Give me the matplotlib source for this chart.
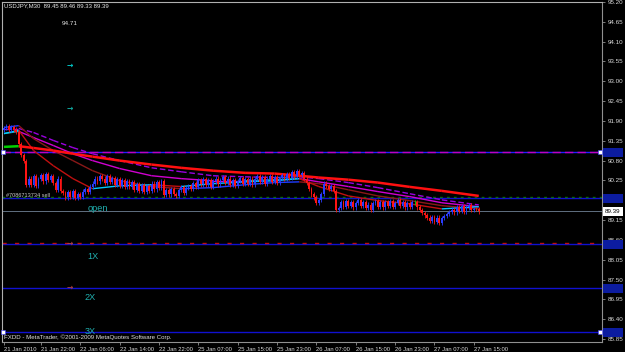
import matplotlib
matplotlib.use("Agg")
import matplotlib.pyplot as plt
import numpy as np
from matplotlib.patches import Rectangle

W, H = 625, 352

# ---- M30 candles, closes (open = previous close) ----
first_open = 91.66
closes = [
    91.70, 91.76, 91.64, 91.74, 91.66, 91.60,
    91.25, 90.95, 90.78, 90.12,
    90.30, 90.12, 90.38, 90.10, 90.28, 90.40, 90.22, 90.42, 90.26, 90.36, 90.18,
    89.98, 90.30, 89.95, 89.90,
    89.78, 89.92, 89.80, 89.95, 89.76, 89.88, 89.80,
    89.94, 90.02, 89.92, 90.08, 90.16,
    90.30, 90.22, 90.38, 90.30,
    90.18, 90.38, 90.20, 90.32, 90.12, 90.28, 90.10, 90.26, 90.08,
    90.22, 90.06, 90.20, 89.98, 90.14, 89.96, 90.12, 89.92, 90.10, 89.96,
    90.16, 90.00, 90.20, 90.04, 90.22,
    89.84,
    89.98, 89.86, 90.02, 89.88, 89.82, 89.98, 90.06, 89.90, 90.04,
    90.10, 90.02, 90.18, 90.08, 90.26, 90.14, 90.28,
    90.12, 90.26, 90.08, 90.22, 90.30, 90.14, 90.26, 90.34, 90.18, 90.30,
    90.12, 90.26, 90.10, 90.24, 90.32, 90.16, 90.28,
    90.16, 90.30, 90.14, 90.28, 90.36, 90.20, 90.34, 90.16, 90.30, 90.38,
    90.20, 90.34, 90.18, 90.32, 90.40, 90.28,
    90.42, 90.32, 90.48, 90.36, 90.52, 90.40, 90.46,
    90.30, 90.18, 90.02, 89.86, 89.78,
    89.62, 89.70,
    89.88, 90.16, 90.10,
    90.02, 90.10, 89.96,
    89.42,
    89.48, 89.64, 89.52, 89.68, 89.54, 89.66, 89.50, 89.62, 89.70, 89.54, 89.64, 89.48,
    89.58, 89.44, 89.62, 89.68, 89.52, 89.64, 89.50, 89.66, 89.54, 89.68,
    89.52, 89.62, 89.70, 89.54, 89.66, 89.50, 89.62, 89.52, 89.64,
    89.64,
    89.50, 89.42, 89.34, 89.28, 89.22,
    89.12, 89.24, 89.10, 89.22, 89.08, 89.20, 89.26, 89.32,
    89.38, 89.44,
    89.36, 89.52, 89.40, 89.54, 89.38, 89.50, 89.56, 89.42, 89.46,
    89.45, 89.39,
]
wick = 0.06

# ---- moving averages, sampled at these bars ----
ma_bars = [0, 6, 12, 20, 28, 36, 47, 60, 72, 85, 98, 110, 120, 128, 140, 152, 165, 178, 193]
ma_slow = [91.18, 91.20, 91.15, 91.08, 90.99, 90.91, 90.80, 90.69, 90.60, 90.52,
           90.46, 90.44, 90.38, 90.33, 90.27, 90.19, 90.07, 89.96, 89.82]
ma_fast = [91.55, 91.64, 91.08, 90.66, 90.30, 90.02, 90.10, 90.13, 90.08, 90.16,
           90.21, 90.24, 90.30, 90.08, 89.82, 89.69, 89.60, 89.46, 89.52]
ma_mid = [91.72, 91.77, 91.41, 91.08, 90.80, 90.52, 90.24, 90.08, 90.02, 90.05,
          90.13, 90.19, 90.21, 90.16, 89.99, 89.82, 89.69, 89.55, 89.46]
ma_mid2 = [91.55, 91.61, 91.44, 91.22, 90.99, 90.80, 90.58, 90.38, 90.30, 90.24,
           90.24, 90.27, 90.30, 90.21, 90.08, 89.94, 89.80, 89.63, 89.52]
ma_top = [91.69, 91.69, 91.58, 91.36, 91.16, 90.99, 90.80, 90.60, 90.49, 90.38,
          90.35, 90.33, 90.35, 90.30, 90.19, 90.05, 89.88, 89.71, 89.57]

# ---- horizontal levels ----
level_top = 91.025
level_order = 89.752
level_1x = 88.479
level_2x = 87.261
level_3x = 86.043
bid = 89.39

# ---- axes labels ----
time_ticks = [0, 15, 31, 47, 63, 79, 95, 111, 127, 143, 159, 175, 191]
time_labels = ["21 Jan 2010", "21 Jan 22:00", "22 Jan 06:00", "22 Jan 14:00",
               "22 Jan 22:00", "25 Jan 07:00", "25 Jan 15:00", "25 Jan 23:00",
               "26 Jan 07:00", "26 Jan 15:00", "26 Jan 23:00", "27 Jan 07:00",
               "27 Jan 15:00"]
price_ticks = [95.20, 94.65, 94.10, 93.55, 93.00, 92.45, 91.90, 91.35, 90.80,
               90.25, 89.70, 89.15, 88.60, 88.05, 87.50, 86.95, 86.40, 85.85]

plt.rcParams["font.family"] = ["Liberation Sans", "DejaVu Sans"]

fig = plt.figure(figsize=(W / 100, H / 100), dpi=100, facecolor="black")
ax = fig.add_axes([2 / W, 10 / H, 600 / W, 340 / H], facecolor="black")
ax.set_xlim(-0.81, 243.1)
ax.set_ylim(85.767, 95.175)

# ---- candles ----
x = np.arange(len(closes))
c = np.array(closes)
o = np.concatenate([[first_open], c[:-1]])
colors = np.where(c > o, "#2a3cff", np.where(c < o, "#ff1414", "#00e000"))
lo = np.minimum(o, c)
hi = np.maximum(o, c)
ax.vlines(x, lo - wick, hi + wick, colors=colors, lw=0.6, zorder=4)
ax.bar(x, np.maximum(hi - lo, 0.012), bottom=lo, width=0.75, color=colors,
       linewidth=0, zorder=4)


def slope_line(vals, up, down, lw=1.0, dashes=None):
    for i in range(len(ma_bars) - 1):
        col = up if vals[i + 1] > vals[i] else down
        kw = {"dashes": dashes} if dashes else {}
        ax.plot(ma_bars[i:i + 2], vals[i:i + 2], color=col, lw=lw,
                solid_capstyle="butt", zorder=3, **kw)


slope_line(ma_top, "#3050ff", "#9a00e0", lw=1.0, dashes=(4, 2))
slope_line(ma_mid2, "#20b0a8", "#d000d0", lw=1.0)
slope_line(ma_mid, "#1e3cff", "#8a1818", lw=1.0)
slope_line(ma_fast, "#00c8ff", "#c01010", lw=1.0)
slope_line(ma_slow, "#00d000", "#ff1010", lw=1.8)

# ---- levels ----
ax.axhline(level_top, color="#2020ff", lw=1, zorder=2)
ax.axhline(level_top, color="#c000c0", lw=1, dashes=(6, 3), zorder=2)
ax.axhline(level_order, color="#1010d0", lw=1, zorder=2)
ax.axhline(level_order + 0.03, color="#0b6b0b", lw=1, dashes=(2, 3), zorder=2)
ax.axhline(bid, color="#607080", lw=0.7, zorder=2)
ax.axhline(level_1x, color="#1010d0", lw=1, zorder=2)
ax.axhline(level_1x + 0.03, color="#c01010", lw=1, dashes=(3, 6), zorder=2)
ax.axhline(level_2x, color="#1010d0", lw=1, zorder=2)
ax.axhline(level_3x, color="#1010d0", lw=1, zorder=2)
for lv in (level_top, level_3x):
    ax.plot([-0.4, 242.3], [lv, lv], ls="none", marker="s", ms=2.2,
            mfc="white", mec="#4040ff", mew=0.4, zorder=5, clip_on=False)

# ---- chart texts ----
teal = "#20b0b0"
ax.text(38, 89.47, "open", color=teal, fontsize=6.6, ha="center", va="center")
ax.text(36, 88.15, "1X", color=teal, fontsize=6.6, ha="center", va="center")
ax.text(35.2, 86.99, "2X", color=teal, fontsize=6.6, ha="center", va="center")
ax.text(35.2, 86.07, "3X", color=teal, fontsize=6.6, ha="center", va="center")
ax.text(26.8, 94.60, "94.71", color="#e0e0e0", fontsize=4.6, ha="center", va="center")
ax.text(0.8, 89.82, "#7086713734 sell", color="#c8c8c8", fontsize=4.0,
        ha="left", va="center")
for yv, col in ((93.46, "#00c8c8"), (92.24, "#10a8a0"), (88.51, "#b04040"), (87.29, "#a04040")):
    ax.text(26.8, yv, "\u2192", color=col, fontsize=5.5, ha="center", va="center",
            family="DejaVu Sans", fontweight="bold")

fig.text(4 / W, 1 - 6 / H, "USDJPY,M30  89.45 89.46 89.33 89.39", color="#e8e8e8",
         fontsize=4.3, ha="left", va="center")
fig.text(4 / W, 1 - 337.5 / H, "FXDD - MetaTrader, \u00a92001-2009 MetaQuotes Software Corp.",
         color="#e0e0e0", fontsize=4.4, ha="left", va="center")

# ---- axes styling ----
for side in ("left", "top"):
    ax.spines[side].set_color("#b0b0b0")
    ax.spines[side].set_linewidth(0.8)
for side in ("right", "bottom"):
    ax.spines[side].set_color("#909090")
    ax.spines[side].set_linewidth(0.8)

ax.yaxis.tick_right()
ax.set_yticks(price_ticks, [f"{p:.2f}" for p in price_ticks])
ax.tick_params(axis="y", colors="#909090", labelcolor="#d8d8d8", labelsize=4.5,
               length=2.5, width=0.6, pad=1.5)
ax.set_xticks(time_ticks, time_labels)
ax.tick_params(axis="x", colors="#909090", labelcolor="#d8d8d8", labelsize=4.2,
               length=2.5, width=0.6, pad=1.0)
for lbl in ax.get_xticklabels():
    lbl.set_ha("left")

# ---- price boxes on the right scale ----
ytr = ax.get_yaxis_transform()
box_h = 9 / 36.14
for lv in (level_top, level_order, level_1x, level_2x, level_3x):
    ax.add_patch(Rectangle((1.0017, lv - box_h / 2), 0.033, box_h, transform=ytr,
                           facecolor="#0c1ca0", edgecolor="none", clip_on=False, zorder=6))
ax.add_patch(Rectangle((1.0017, bid - box_h / 2), 0.033, box_h, transform=ytr,
                       facecolor="white", edgecolor="none", clip_on=False, zorder=6))
ax.text(1.018, bid, f"{bid:.2f}", transform=ytr, color="black", fontsize=4.5,
        ha="center", va="center", zorder=7, clip_on=False)

fig.savefig("out.png", dpi=100, facecolor="black")
